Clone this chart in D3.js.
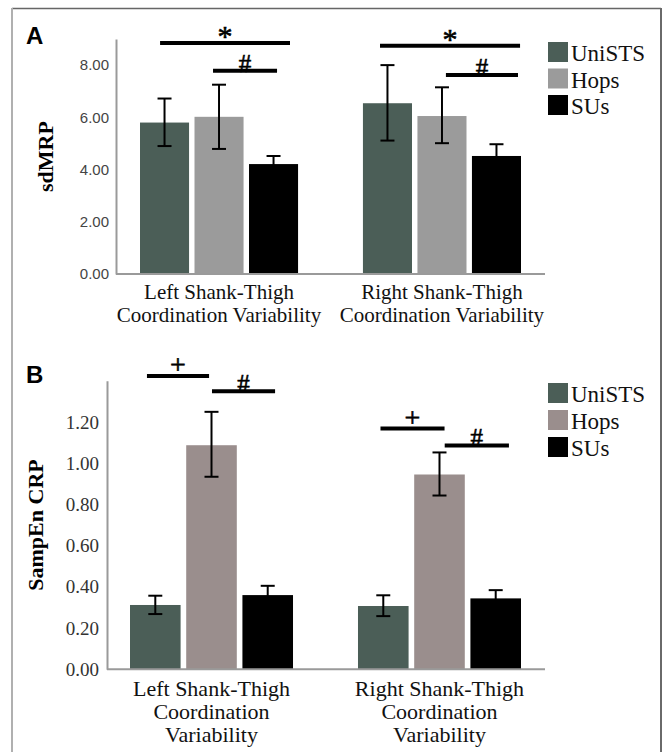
<!DOCTYPE html>
<html>
<head>
<meta charset="utf-8">
<script src="https://cdn.jsdelivr.net/npm/d3@7"></script>
<style>
  html, body { margin: 0; padding: 0; background: #fff; }
  svg { display: block; }
</style>
</head>
<body>
<script>
// ---------- data ----------
const seriesNames = ["UniSTS", "Hops", "SUs"];
const groupNames = ["Left", "Right"];

const labelsA = [["Left Shank-Thigh", "Coordination Variability"], ["Right Shank-Thigh", "Coordination Variability"]];
const labelsB = [["Left Shank-Thigh", "Coordination", "Variability"], ["Right Shank-Thigh", "Coordination", "Variability"]];

// Panel A: sdMRP (mean, lower, upper) per group x series
const sdMRPMean  = [[5.80, 6.02, 4.21], [6.54, 6.05, 4.52]];
const sdMRPLower = [[4.90, 4.79, 3.90], [5.11, 5.01, 4.07]];
const sdMRPUpper = [[6.72, 7.25, 4.52], [8.00, 7.15, 4.97]];

// Panel B: SampEn CRP
const sampEnMean  = [[0.312, 1.087, 0.360], [0.307, 0.945, 0.344]];
const sampEnLower = [[0.268, 0.934, 0.315], [0.258, 0.843, 0.304]];
const sampEnUpper = [[0.357, 1.249, 0.405], [0.359, 1.052, 0.384]];

const ticksA = [0, 2, 4, 6, 8];
const ticksB = [0, 0.2, 0.4, 0.6, 0.8, 1.0, 1.2];

// significance bars: [groupIndex, startFrac, endFrac, value, symbol]
const sigA = [[0, 0.127, 0.949, 8.85, "*"], [0, 0.462, 0.867, 7.78, "#"],
              [1, 0.108, 0.994, 8.74, "*"], [1, 0.525, 0.981, 7.62, "#"]];
const sigB = [[0, 0.104, 0.485, 1.423, "+"], [0, 0.503, 0.890, 1.349, "#"],
              [1, 0.138, 0.531, 1.168, "+"], [1, 0.532, 0.926, 1.086, "#"]];

const colorsA = ["#4b5e57", "#9b9b9b", "#000000"];
const colorsB = ["#4b5e57", "#9a8e8d", "#000000"];

// ---------- drawing ----------
const W = 664, H = 752;
const svg = d3.select("body").append("svg").attr("width", W).attr("height", H);

// frame
svg.append("line").attr("x1", 12).attr("x2", 661).attr("y1", 8.5).attr("y2", 8.5)
  .attr("stroke", "#666").attr("stroke-width", 1.5);
svg.append("line").attr("x1", 12).attr("x2", 12).attr("y1", 8).attr("y2", H)
  .attr("stroke", "#b0b0b0").attr("stroke-width", 2);
svg.append("line").attr("x1", 661).attr("x2", 661).attr("y1", 8).attr("y2", H)
  .attr("stroke", "#6a6a6a").attr("stroke-width", 2);

const serif = "'Liberation Serif', 'Times New Roman', serif";
const sans = "'Liberation Sans', Arial, sans-serif";

const symStyle = { "*": { size: 30, dy: 3 }, "#": { size: 25, dy: 1 }, "+": { size: 28, dy: -2 } };

function panel(cfg) {
  const g = svg.append("g");
  const y = d3.scaleLinear().domain(cfg.domain).range([cfg.y0, cfg.y1]);
  const x0 = d3.scaleBand().domain(groupNames).range(cfg.bandRange).paddingInner(cfg.padInner).paddingOuter(0);
  const x1 = d3.scaleBand().domain(seriesNames).range([0, x0.bandwidth()]).paddingInner(0.1).paddingOuter(0);

  // panel letter
  g.append("text").attr("x", 26).attr("y", cfg.letterY).text(cfg.letter)
    .attr("font-family", sans).attr("font-weight", "bold").attr("font-size", 24).attr("fill", "#000");

  // y axis
  const axis = d3.axisLeft(y).tickValues(cfg.ticks).tickSize(0).tickPadding(cfg.tickPad)
    .tickFormat(d3.format(".2f"));
  const ag = g.append("g").attr("transform", `translate(${cfg.axisX},0)`).call(axis);
  ag.select(".domain").attr("stroke", "#9a9a9a").attr("stroke-width", 2);
  ag.selectAll(".tick text").attr("font-family", cfg.tickFont).attr("font-size", cfg.tickSize)
    .attr("fill", cfg.tickColor);

  // bars
  const data = [];
  groupNames.forEach((gn, gi) => seriesNames.forEach((sn, si) => {
    data.push({ gn, sn, si, m: cfg.mean[gi][si], lo: cfg.lower[gi][si], hi: cfg.upper[gi][si] });
  }));
  g.selectAll("rect.bar").data(data).join("rect").attr("class", "bar")
    .attr("x", d => x0(d.gn) + x1(d.sn))
    .attr("width", x1.bandwidth())
    .attr("y", d => y(d.m))
    .attr("height", d => y(0) - y(d.m))
    .attr("fill", d => cfg.colors[d.si]);

  // baseline
  g.append("line").attr("x1", cfg.axisX).attr("x2", cfg.baseEnd).attr("y1", y(0)).attr("y2", y(0))
    .attr("stroke", "#9a9a9a").attr("stroke-width", 2);

  // error bars
  const eb = g.selectAll("g.eb").data(data).join("g").attr("class", "eb")
    .attr("transform", d => `translate(${x0(d.gn) + x1(d.sn) + x1.bandwidth() / 2},0)`);
  eb.append("line").attr("y1", d => y(d.lo)).attr("y2", d => y(d.hi))
    .attr("stroke", "#000").attr("stroke-width", 2);
  eb.append("line").attr("x1", -7).attr("x2", 7).attr("y1", d => y(d.hi)).attr("y2", d => y(d.hi))
    .attr("stroke", "#000").attr("stroke-width", 2);
  eb.append("line").attr("x1", -7).attr("x2", 7).attr("y1", d => y(d.lo)).attr("y2", d => y(d.lo))
    .attr("stroke", "#000").attr("stroke-width", 2);

  // significance bars
  cfg.sig.forEach(s => {
    const gx = x0(groupNames[s[0]]);
    const xa = gx + s[1] * x0.bandwidth(), xb = gx + s[2] * x0.bandwidth();
    const yy = y(s[3]);
    g.append("line").attr("x1", xa).attr("x2", xb).attr("y1", yy).attr("y2", yy)
      .attr("stroke", "#000").attr("stroke-width", 4);
    const st = symStyle[s[4]];
    g.append("text").attr("x", (xa + xb) / 2).attr("y", yy + st.dy)
      .attr("text-anchor", "middle").attr("font-family", serif)
      .attr("font-size", st.size).attr("fill", "#000")
      .attr("stroke", "#000").attr("stroke-width", 0.6).text(s[4]);
  });

  // x category labels
  cfg.labels.forEach((lines, gi) => {
    const cx = x0(groupNames[gi]) + x0.bandwidth() / 2;
    const t = g.append("text").attr("text-anchor", "middle").attr("font-family", serif)
      .attr("font-size", cfg.labelSize).attr("fill", "#111");
    lines.forEach((ln, li) => {
      t.append("tspan").attr("x", cx).attr("y", cfg.labelY + li * cfg.labelStep).text(ln);
    });
  });

  // y title
  g.append("text")
    .attr("transform", `translate(${cfg.titleX},${(cfg.y0 + cfg.y1) / 2}) rotate(-90)`)
    .attr("text-anchor", "middle").attr("font-family", serif).attr("font-weight", "bold")
    .attr("font-size", 22).attr("fill", "#000").text(cfg.title);

  // legend
  seriesNames.forEach((sn, i) => {
    const top = cfg.legTop + i * cfg.legStep;
    g.append("rect").attr("x", 548).attr("y", top).attr("width", 20).attr("height", 20)
      .attr("fill", cfg.colors[i]);
    g.append("text").attr("x", 571).attr("y", top + 19).attr("font-family", serif)
      .attr("font-size", 23).attr("fill", "#111").text(sn);
  });
}

panel({
  letter: "A", letterY: 44,
  domain: [0, 9], y0: 274, y1: 39,
  axisX: 116, baseEnd: 545,
  bandRange: [140, 521], padInner: 0.291,
  ticks: ticksA, tickPad: 7, tickFont: sans, tickSize: 15, tickColor: "#444",
  mean: sdMRPMean, lower: sdMRPLower, upper: sdMRPUpper,
  colors: colorsA, sig: sigA,
  labels: labelsA, labelSize: 21, labelY: 299, labelStep: 23,
  title: "sdMRP", titleX: 53,
  legTop: 42, legStep: 26.5
});

panel({
  letter: "B", letterY: 383,
  domain: [0, 1.4], y0: 669.3, y1: 380.7,
  axisX: 107, baseEnd: 545,
  bandRange: [130, 521], padInner: 0.285,
  ticks: ticksB, tickPad: 8, tickFont: serif, tickSize: 19, tickColor: "#333",
  mean: sampEnMean, lower: sampEnLower, upper: sampEnUpper,
  colors: colorsB, sig: sigB,
  labels: labelsB, labelSize: 22, labelY: 696, labelStep: 23,
  title: "SampEn CRP", titleX: 43,
  legTop: 383, legStep: 27
});
</script>
</body>
</html>
